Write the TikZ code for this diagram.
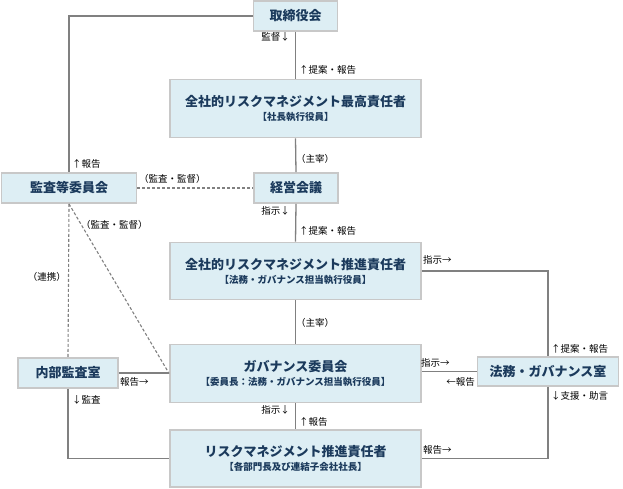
\documentclass[tikz,border=0pt]{standalone}
\usepackage{fontspec}
\setmainfont{Noto Sans CJK JP}
\definecolor{boxfill}{HTML}{DDEEF4}
\definecolor{boxline}{HTML}{C8C8C8}
\definecolor{boxtext}{HTML}{1B3A5C}
\definecolor{conn}{HTML}{808080}
\begin{document}
\begin{tikzpicture}[x=1pt,y=-1pt,
  box/.style={draw=boxline,line width=1.8pt,fill=boxfill,text=boxtext,font=\fontsize{13}{15}\selectfont\bfseries,align=center,inner sep=0pt},
  sub/.style={font=\fontsize{9.5}{11}\selectfont\bfseries},
  conline/.style={draw=conn,line width=1.3pt},
  dashline/.style={draw=conn,line width=1.1pt,dashed,dash pattern=on 3pt off 2pt},
  lab/.style={font=\fontsize{9.5}{11}\selectfont,inner sep=0pt,text=black}]
\useasboundingbox (0,0) rectangle (623,489);
% boxes
\node[box,minimum width=84pt,minimum height=30pt] (tori) at (295.5,16) {取締役会};
\node[box,minimum width=251pt,minimum height=58pt] (cro) at (295.5,108.5) {全社的リスクマネジメント最高責任者\\[-1pt]{\fontsize{9.5}{11}\selectfont【社長執行役員】}};
\node[box,minimum width=135pt,minimum height=30pt] (kansa) at (69,188) {監査等委員会};
\node[box,minimum width=84pt,minimum height=30pt] (keiei) at (296,188) {経営会議};
\node[box,minimum width=251pt,minimum height=57pt] (suishin) at (295.5,271) {全社的リスクマネジメント推進責任者\\[-1pt]{\fontsize{9.5}{11}\selectfont【法務・ガバナンス担当執行役員】}};
\node[box,minimum width=141pt,minimum height=29pt] (hou) at (548,371.5) {法務・ガバナンス室};
\node[box,minimum width=251pt,minimum height=58pt] (gov) at (295.5,373.5) {ガバナンス委員会\\[-1pt]{\fontsize{9.5}{11}\selectfont【委員長：法務・ガバナンス担当執行役員】}};
\node[box,minimum width=100pt,minimum height=30pt] (naibu) at (68,373) {内部監査室};
\node[box,minimum width=251pt,minimum height=57pt] (risk) at (295.5,458.5) {リスクマネジメント推進責任者\\[-1pt]{\fontsize{9.5}{11}\selectfont【各部門長及び連結子会社社長】}};
% connectors
\begin{scope}[on background layer/.style={}]
\end{scope}
\draw[conline] (tori.west) -| (kansa.north);
\draw[conline] (tori.south) -- (cro.north);
\draw[conline] (cro.south) -- (keiei.north);
\draw[conline] (keiei.south) -- (suishin.north);
\draw[conline] (suishin.south) -- (gov.north);
\draw[conline] (gov.south) -- (risk.north);
\draw[conline] (suishin.east) -| (hou.north);
\draw[conline] (hou.west) -- (gov.east |- hou.west);
\draw[conline] (naibu.east) -- (gov.west |- naibu.east);
\draw[conline] (naibu.south) |- (risk.west);
\draw[conline] (hou.south) |- (risk.east);
\draw[dashline] (kansa.east) -- (keiei.west);
\draw[dashline] (kansa.south) -- (naibu.north);
\draw[dashline] (kansa.south) -- (gov.west);
% labels
\node[lab,anchor=east] (l1) at (290,37) {監督↓};
\node[lab,anchor=west] (l2) at (299,70) {↑提案・報告};
\node[lab,anchor=west] (l3) at (296,159) {（主宰）};
\node[lab,anchor=west] (l4) at (72,164) {↑報告};
\node[lab,anchor=west] (l5) at (139,179) {（監査・監督）};
\node[lab,anchor=east] (l6) at (290,211) {指示↓};
\node[lab,anchor=west] (l7) at (299,231) {↑提案・報告};
\node[lab,anchor=west] (l8) at (81,225) {（監査・監督）};
\node[lab,anchor=east] (l9) at (66,277) {（連携）};
\node[lab,anchor=west] (l10) at (423,260) {指示→};
\node[lab,anchor=west] (l11) at (296,323) {（主宰）};
\node[lab,anchor=west] (l12) at (120,382) {報告→};
\node[lab,anchor=west] (l13) at (72,400) {↓監査};
\node[lab,anchor=east] (l14) at (290,410) {指示↓};
\node[lab,anchor=west] (l15) at (299,422) {↑報告};
\node[lab,anchor=west] (l16) at (421,363) {指示→};
\node[lab,anchor=east] (l17) at (475,382) {←報告};
\node[lab,anchor=west] (l18) at (551,349) {↑提案・報告};
\node[lab,anchor=west] (l19) at (551,396) {↓支援・助言};
\node[lab,anchor=west] (l20) at (423,450) {報告→};
\end{tikzpicture}
\end{document}
